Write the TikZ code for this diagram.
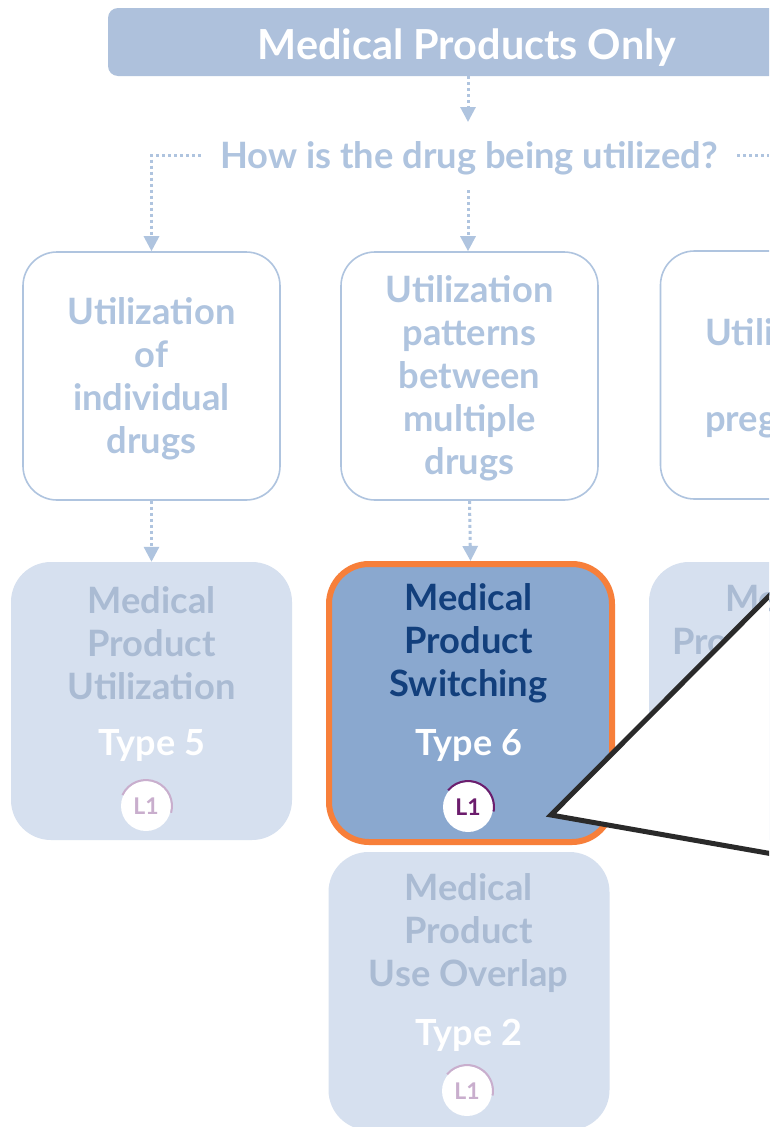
\documentclass[tikz,border=0pt]{standalone}
\usepackage{fontspec}
\setmainfont{Lato}
\usetikzlibrary{arrows.meta}
\definecolor{hdr}{HTML}{AEC1DC}
\definecolor{lighttext}{HTML}{AFC4DF}
\definecolor{palefill}{HTML}{D6E0EF}
\definecolor{paletext}{HTML}{AABBD3}
\definecolor{activefill}{HTML}{8AA8CF}
\definecolor{activeedge}{HTML}{F77F3A}
\definecolor{activetext}{HTML}{123F7C}
\definecolor{lvl}{HTML}{6C1D6D}
\definecolor{lvlpale}{HTML}{C9AECD}
\definecolor{callout}{HTML}{2A2A2A}
\newcommand{\lowered}[2]{\raisebox{-#1}[0pt][0pt]{#2}}
\tikzset{
  x=1pt,y=1pt,
  every node/.style={font=\bfseries},
  header/.style={fill=hdr,rounded corners=10pt,minimum width=718pt,minimum height=68pt,inner sep=0pt,text=white,font=\fontsize{41.4}{46}\bfseries\selectfont},
  question/.style={minimum width=536pt,minimum height=70pt,inner sep=0pt,text=lighttext,font=\fontsize{36.3}{42}\bfseries\selectfont},
  usebox/.style={draw=lighttext,line width=1.6pt,fill=white,rounded corners=34pt,minimum width=257pt,minimum height=248pt,inner sep=0pt},
  palebox/.style={fill=palefill,rounded corners=40pt,minimum width=281pt,minimum height=278pt,inner sep=0pt},
  activebox/.style={draw=activeedge,line width=6pt,fill=activefill,rounded corners=40pt,minimum width=283pt,minimum height=278pt,inner sep=0pt},
  titletxt/.style={align=center,inner sep=0pt,font=\fontsize{36.3}{43}\bfseries\selectfont},
  typetxt/.style={inner sep=0pt,font=\fontsize{36}{42}\bfseries\selectfont},
  fragment/.style={inner sep=0pt,anchor=base west,font=\fontsize{36.3}{42}\bfseries\selectfont},
  badge/.style={circle,fill=white,minimum size=50pt,inner sep=0pt,font=\fontsize{23}{26}\bfseries\selectfont},
  flow/.style={draw=lighttext,line width=3pt,dash pattern=on 3pt off 3pt,-{Triangle[width=15pt,length=15pt,color=lighttext]}},
  flowplain/.style={draw=lighttext,line width=3pt,dash pattern=on 3pt off 3pt},
}
\begin{document}
\begin{tikzpicture}
\useasboundingbox (0,0) rectangle (769,-1127);
\clip (0,0) rectangle (769,-1127);
\fill[white] (0,0) rectangle (769,-1127);

\node[header] (top) at (467,-42) {\lowered{17.5pt}{Medical Products Only}};
\node[question] (q) at (469,-155) {\lowered{13.5pt}{How is the drug being utilized?}};

\node[usebox] (u1) at (151.5,-376) {};
\node[usebox] (u2) at (469.5,-376) {};
\node[usebox] (u3) at (789,-375) {};
\node[titletxt,text=lighttext] (l1) at (151.5,-379) {Utilization\\of\\individual\\drugs};
\node[titletxt,text=lighttext] (l2) at (469.5,-378) {Utilization\\patterns\\between\\multiple\\drugs};
\node[fragment,text=lighttext] (u3a) at (705,-345.5) {Utili};
\node[fragment,text=lighttext] (u3b) at (705,-431.5) {preg};

\coordinate (qa) at (468,-122);
\coordinate (qb) at (468,-190);
\draw[flow] (top.south -| qa) -- (qa);
\draw[flow] (qb) -- (u2.north -| qb);
\draw[flowplain,-{Triangle[width=15pt,length=15pt,color=lighttext]}] (q.west) -| (u1.north);
\draw[flowplain] (q.east) -- (q.east -| 769,0);

\node[palebox] (p5) at (151.5,-701) {};
\node[activebox] (p6) at (470.5,-703) {};
\node[palebox] (p2) at (469,-991) {};
\node[palebox] (p3) at (789.5,-701) {};

\draw[flow] (u1.south) -- (p5.north);
\draw[flow] (u2.south) -- (p6.north);

% Type 5
\node[titletxt,text=paletext] (t5) at (151.5,-643.5) {Medical\\Product\\Utilization};
\node[typetxt,text=white] (n5) at (151.5,-745) {Type 5};
\node[badge,text=lvlpale] (b5) at (146,-806) {L1};
\draw[lvlpale,line width=2pt] (b5.center) ++(155:26) arc[start angle=155,end angle=-15,radius=26];

% Type 6
\node[titletxt,text=activetext] (t6) at (468.5,-643.5) {Medical\\Product\\Switching};
\node[typetxt,text=white] (n6) at (468.5,-745) {Type 6};
\node[badge,text=lvl] (b6) at (468,-807) {L1};
\draw[lvl,line width=2pt] (b6.center) ++(140:26) arc[start angle=140,end angle=-10,radius=26];

% Type 2
\node[titletxt,text=paletext] (t2) at (468.5,-933.5) {Medical\\Product\\Use Overlap};
\node[typetxt,text=white] (n2) at (468.5,-1035) {Type 2};
\node[badge,text=lvlpale] (b2) at (467,-1091) {L1};
\draw[lvlpale,line width=2pt] (b2.center) ++(140:26) arc[start angle=140,end angle=-10,radius=26];

% third pale box, visible part
\node[fragment,text=paletext] (f1) at (725,-611) {Me};
\node[fragment,text=paletext] (f2) at (672,-654) {Pro};

% callout
\coordinate (c0) at (551,-815);
\coordinate (c1) at (790,-575);
\coordinate (c2) at (790,-857);
\filldraw[fill=white,draw=callout,line width=5pt,line join=miter] (c1) -- (c0) -- (c2) -- cycle;
\end{tikzpicture}
\end{document}
